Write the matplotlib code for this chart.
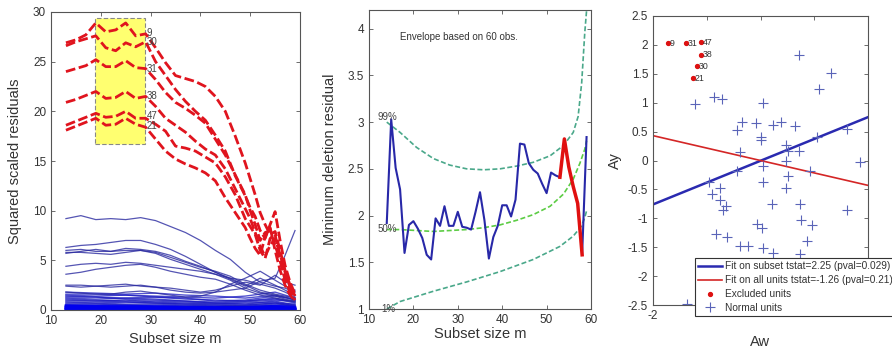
import matplotlib
matplotlib.use("Agg")
import matplotlib.pyplot as plt
from matplotlib.ticker import FormatStrFormatter
from matplotlib.patches import Rectangle

plt.rcParams['font.family'] = ['Liberation Sans', 'DejaVu Sans']

# ---------------- Panel 1: monitoring of squared scaled residuals ----------------
RED_M = [13, 15, 17, 19, 21, 23, 25, 27, 29, 31, 33, 35, 37, 39, 41, 43, 45, 47, 49,
         50, 51, 52, 53, 54, 55, 56, 57, 58, 59]
red_units = ["9", "30", "31", "38", "47", "21"]
red_9 = [26.9, 27.2, 27.7, 28.9, 28.0, 28.2, 28.9, 27.6, 27.8, 26.4, 24.9, 23.6, 23.3, 23.0, 22.5, 21.5, 20.0, 17.5, 14.8,
         13.2, 11.6, 9.8, 8.6, 7.6, 7.9, 6.0, 4.0, 2.5, 1.4]
red_30 = [26.6, 27.0, 27.3, 27.6, 26.4, 26.1, 26.9, 26.5, 27.0, 25.0, 23.6, 22.2, 21.0, 20.0, 19.1, 17.6, 16.0, 13.5, 11.5,
          10.3, 9.4, 8.0, 7.2, 8.6, 9.9, 7.0, 4.5, 2.8, 1.6]
red_31 = [24.0, 24.3, 24.6, 25.2, 24.5, 24.5, 25.1, 24.4, 24.3, 23.2, 21.9, 20.9, 20.3, 19.6, 18.8, 17.2, 15.6, 13.6, 11.6,
          10.0, 8.6, 7.0, 7.8, 8.0, 6.5, 5.0, 3.5, 2.2, 1.3]
red_38 = [20.9, 21.2, 21.6, 22.0, 21.3, 21.4, 22.0, 21.3, 21.5, 20.5, 19.3, 18.6, 17.9, 17.0, 16.2, 15.6, 14.2, 12.2, 10.2,
          9.2, 7.8, 6.4, 5.4, 6.5, 7.2, 5.6, 3.8, 2.3, 1.5]
red_47 = [18.6, 19.0, 19.4, 19.8, 19.4, 19.5, 20.0, 19.3, 19.3, 18.7, 18.0, 16.5, 16.3, 16.0, 15.4, 14.8, 13.4, 11.6, 9.2,
          8.4, 7.6, 6.0, 5.2, 7.2, 7.6, 5.0, 3.0, 1.8, 1.0]
red_21 = [18.1, 18.5, 18.9, 19.3, 18.6, 18.7, 19.3, 18.7, 18.4, 17.2, 16.0, 15.2, 14.7, 14.3, 13.8, 13.0, 11.3, 9.8, 8.3,
          7.2, 6.2, 5.5, 7.4, 8.3, 6.0, 4.0, 2.5, 1.5, 0.9]
red_label_y = [27.9, 27.0, 24.3, 21.5, 19.5, 18.5]
label_m = 29.2

BLUE_M = [13, 16, 19, 22, 25, 28, 31, 34, 37, 40, 43, 46, 49, 52, 55, 57, 59]
blue_upper = [
    [9.2, 9.5, 9.1, 9.2, 9.1, 9.3, 9.0, 8.4, 7.8, 7.0, 6.0, 5.1, 3.8, 2.8, 2.4, 2.2, 1.8],
    [6.3, 6.5, 6.6, 6.8, 7.0, 7.0, 6.6, 6.1, 5.4, 4.6, 3.8, 3.2, 2.5, 1.8, 1.5, 1.3, 1.0],
    [6.0, 6.1, 5.9, 5.9, 6.0, 6.0, 5.8, 5.3, 4.8, 4.3, 3.9, 3.4, 2.6, 2.0, 1.6, 1.4, 1.2],
    [5.8, 5.8, 5.7, 5.6, 5.8, 6.0, 5.7, 5.1, 4.6, 4.1, 3.6, 3.0, 2.2, 1.7, 1.4, 1.1, 0.9],
    [5.7, 5.9, 6.1, 5.9, 6.2, 6.1, 5.9, 5.5, 4.9, 4.4, 3.8, 3.1, 2.4, 3.2, 2.5, 2.0, 1.5],
    [4.4, 4.6, 4.7, 4.6, 4.8, 4.7, 4.5, 4.3, 4.1, 3.9, 3.6, 3.2, 3.0, 2.6, 2.2, 1.8, 1.3],
    [3.6, 3.8, 4.1, 4.3, 4.5, 4.6, 4.3, 3.9, 3.6, 3.3, 3.1, 2.6, 2.0, 1.5, 1.2, 1.0, 0.8],
    [2.5, 2.5, 2.4, 2.3, 2.4, 2.5, 2.3, 2.0, 1.8, 1.7, 1.8, 2.6, 3.2, 3.9, 3.0, 2.4, 2.0],
    [2.4, 2.3, 2.4, 2.5, 2.6, 2.4, 2.3, 2.2, 2.0, 1.8, 2.0, 2.4, 2.8, 2.5, 3.5, 2.8, 2.5],
    [1.8, 1.7, 1.6, 1.6, 1.8, 1.9, 1.7, 1.5, 1.3, 1.4, 1.8, 2.0, 2.2, 2.9, 3.2, 5.5, 8.0],
]
LOW_M = [13, 19, 25, 31, 37, 43, 49, 55, 59]
blue_low = [
    [1.8, 1.7, 1.6, 1.7, 1.5, 1.4, 1.2, 1.5, 1.0],
    [1.6, 1.6, 1.5, 1.4, 1.3, 1.2, 1.4, 1.8, 1.2],
    [1.5, 1.4, 1.5, 1.3, 1.1, 1.0, 0.9, 1.2, 0.8],
    [1.4, 1.3, 1.2, 1.3, 1.2, 0.9, 1.0, 1.4, 1.1],
    [1.3, 1.3, 1.1, 1.0, 0.9, 0.8, 0.9, 1.1, 0.7],
    [1.2, 1.1, 1.2, 1.1, 0.9, 0.7, 0.6, 0.9, 0.5],
    [1.1, 1.0, 0.9, 0.9, 0.8, 0.7, 0.8, 1.0, 0.9],
    [1.0, 0.9, 1.0, 0.8, 0.7, 0.6, 0.5, 0.7, 0.6],
    [0.9, 0.9, 0.8, 0.7, 0.6, 0.6, 0.7, 0.8, 0.4],
    [0.8, 0.7, 0.8, 0.7, 0.6, 0.5, 0.4, 0.6, 0.5],
    [0.7, 0.7, 0.6, 0.6, 0.5, 0.4, 0.5, 0.7, 0.3],
    [0.6, 0.6, 0.5, 0.5, 0.4, 0.4, 0.3, 0.5, 0.4],
    [0.5, 0.5, 0.5, 0.4, 0.4, 0.3, 0.4, 0.4, 0.2],
    [0.45, 0.4, 0.4, 0.35, 0.3, 0.3, 0.25, 0.4, 0.3],
    [0.4, 0.35, 0.3, 0.3, 0.25, 0.2, 0.3, 0.3, 0.2],
    [0.3, 0.3, 0.25, 0.2, 0.2, 0.2, 0.2, 0.3, 0.1],
    [0.25, 0.2, 0.2, 0.2, 0.15, 0.15, 0.1, 0.2, 0.15],
    [0.2, 0.15, 0.15, 0.1, 0.1, 0.1, 0.15, 0.2, 0.1],
    [0.15, 0.1, 0.1, 0.1, 0.08, 0.05, 0.1, 0.1, 0.05],
    [0.1, 0.08, 0.06, 0.05, 0.05, 0.04, 0.05, 0.06, 0.03],
    [0.05, 0.04, 0.03, 0.03, 0.02, 0.02, 0.03, 0.03, 0.02],
    [0.03, 0.02, 0.02, 0.01, 0.01, 0.01, 0.01, 0.02, 0.01],
]
box_m = [18.8, 28.9]
box_y = [16.7, 29.4]

# ---------------- Panel 2: minimum deletion residual ----------------
MDR_M = [14, 15, 16, 17, 18, 19, 20, 21, 22, 23, 24, 25, 26, 27, 28, 29, 30, 31, 32, 33, 34, 35, 36,
         37, 38, 39, 40, 41, 42, 43, 44, 45, 46, 47, 48, 49, 50, 51, 52, 53]
mdr = [1.92, 3.03, 2.51, 2.28, 1.60, 1.90, 1.94, 1.86, 1.76, 1.58, 1.53, 1.97, 1.89, 2.10, 1.89, 1.89,
       2.04, 1.88, 1.87, 1.85, 2.04, 2.25, 1.95, 1.54, 1.77, 1.89, 2.11, 2.11, 1.99, 2.17, 2.77, 2.76,
       2.56, 2.49, 2.45, 2.34, 2.24, 2.46, 2.43, 2.41]
MDR_RED_M = [53, 54, 55, 56, 57, 58]
mdr_red = [2.41, 2.82, 2.52, 2.31, 2.13, 1.58]
MDR_END_M = [58, 59]
mdr_end = [1.58, 2.84]

ENV_M = [14, 17, 20.7, 24.5, 28.2, 32, 35.8, 39.5, 43.3, 47, 50.8, 53.8, 56, 57.1, 57.9, 58.6, 59.1]
env99 = [3.0, 2.89, 2.73, 2.61, 2.54, 2.50, 2.49, 2.50, 2.53, 2.57, 2.64, 2.75, 2.89, 3.06, 3.42, 3.96, 4.25]
ENV50_M = [14, 17, 20.7, 24.5, 28.2, 32, 35.8, 39.5, 43.3, 47, 50.8, 53.8, 56, 57.5, 58.6, 59]
env50 = [1.85, 1.85, 1.84, 1.83, 1.84, 1.85, 1.87, 1.90, 1.95, 2.01, 2.10, 2.23, 2.39, 2.56, 2.71, 2.80]
ENV1_M = [14, 17, 24.5, 32, 39.5, 47, 53, 56, 57.9, 58.6, 59]
env1 = [1.0, 1.08, 1.19, 1.29, 1.40, 1.53, 1.67, 1.78, 1.89, 1.98, 2.05]

# ---------------- Panel 3: added variable plot ----------------
excl_labels = ["9", "31", "47", "38", "30", "21"]
excl_x = [-1.73, -1.39, -1.11, -1.11, -1.19, -1.26]
excl_y = [2.03, 2.03, 2.05, 1.83, 1.63, 1.42]
norm_x = [0.72, 1.32, 1.09, -1.22, -0.86, -0.72, 0.04, -0.43, -0.35, -0.09, 0.24, 0.39, 0.65, 0.01, 0.01,
          0.47, 0.52, 0.72, 1.06, 1.6, 1.85, -0.38, -0.44, 0.04, 0.52, 0.47, 0.93, -0.95, -0.91, -0.75,
          -0.75, -0.64, -0.69, 0.04, 0.22, 0.47, 0.73, 0.75, 0.96, 1.6, -0.82, -0.62, -0.38, -0.24,
          -0.07, 0.03, 0.86, 0.05, 0.24, 0.73, -1.36]
norm_y = [1.83, 1.52, 1.24, 0.97, 1.10, 1.06, 1.0, 0.53, 0.67, 0.65, 0.61, 0.67, 0.6, 0.4, 0.35,
          0.26, 0.17, 0.17, 0.4, 0.55, -0.03, 0.14, -0.18, -0.09, -0.26, 0.0, -0.18, -0.37, -0.58, -0.48,
          -0.69, -0.78, -0.86, -0.38, -0.75, -0.48, -0.76, -1.03, -1.12, -0.86, -1.27, -1.32, -1.48, -1.48,
          -1.1, -1.17, -1.4, -1.52, -1.6, -1.62, -2.48]
fit_x = [-2, 2]
fit_subset_y = [-0.76, 0.75]
fit_all_y = [0.43, -0.43]
legend_labels = ["Fit on subset tstat=2.25 (pval=0.029)",
                 "Fit on all units tstat=-1.26 (pval=0.21)",
                 "Excluded units", "Normal units"]

# ====================================================================
W, H = 892, 354
fig = plt.figure(figsize=(W / 100, H / 100), dpi=100)

def axes_px(l, t, r, b):
    return fig.add_axes([l / W, 1 - b / H, (r - l) / W, (b - t) / H])

SPINE = '#555555'
TXT = '#333333'

def style(ax):
    for s in ax.spines.values():
        s.set_color(SPINE)
        s.set_linewidth(0.8)
    ax.tick_params(direction='in', top=True, right=True, length=3, width=0.6,
                   colors=SPINE, labelcolor=TXT, labelsize=8.5)

# Panel 1
ax1 = axes_px(51, 12, 300, 310)
style(ax1)
ax1.add_patch(Rectangle((box_m[0], box_y[0]), box_m[1] - box_m[0], box_y[1] - box_y[0],
                        facecolor='#ffff70', edgecolor='#888888', linestyle=(0, (4, 2)), lw=0.8, zorder=1))
for ys in blue_low:
    thick = max(ys) < 0.5
    ax1.plot(LOW_M, ys, color='#0000ee' if thick else '#1a1ac0',
             lw=1.8 if thick else 1.0, alpha=0.9 if thick else 0.75, zorder=2)
for ys in blue_upper:
    ax1.plot(BLUE_M, ys, color='#2a2aa0', lw=0.9, alpha=0.8, zorder=2)
for ys in [red_9, red_30, red_31, red_38, red_47, red_21]:
    ax1.plot(RED_M, ys, color='#e0141e', lw=2.0, dashes=(3.5, 1.3), zorder=3)
for lab, ly in zip(red_units, red_label_y):
    ax1.text(label_m, ly, lab, fontsize=7, color='#444444', va='center', ha='left', zorder=4)
ax1.set_xlim(10, 60)
ax1.set_ylim(0, 30)
ax1.set_xticks([10, 20, 30, 40, 50, 60])
ax1.set_yticks([0, 5, 10, 15, 20, 25, 30])
ax1.set_xlabel('Subset size m', fontsize=10.5, color=TXT, labelpad=4)
ax1.set_ylabel('Squared scaled residuals', fontsize=10.5, color=TXT, labelpad=8)

# Panel 2
ax2 = axes_px(369, 10, 591, 309)
style(ax2)
ax2.plot(ENV_M, env99, color='#4aa88a', lw=1.2, dashes=(3, 1.5))
ax2.plot(ENV50_M, env50, color='#5ccc44', lw=1.2, dashes=(3, 1.5))
ax2.plot(ENV1_M, env1, color='#4aa88a', lw=1.2, dashes=(3, 1.5))
ax2.plot(MDR_M, mdr, color='#2828a8', lw=1.5)
ax2.plot(MDR_END_M, mdr_end, color='#2828a8', lw=1.5)
ax2.plot(MDR_RED_M, mdr_red, color='#e01010', lw=2.5)
ax2.text(12.0, 3.06, '99%', fontsize=7, color='#444444', va='center')
ax2.text(12.0, 1.86, '50%', fontsize=7, color='#444444', va='center')
ax2.text(12.8, 1.0, '1%', fontsize=7, color='#444444', va='center')
ax2.text(0.14, 0.91, 'Envelope based on 60 obs.', transform=ax2.transAxes, fontsize=7,
         color='#333333', va='center')
ax2.set_xlim(10, 60)
ax2.set_ylim(1, 4.2)
ax2.set_xticks([10, 20, 30, 40, 50, 60])
ax2.set_yticks([1, 1.5, 2, 2.5, 3, 3.5, 4])
ax2.yaxis.set_major_formatter(FormatStrFormatter('%g'))
ax2.set_xlabel('Subset size m', fontsize=10.5, color=TXT, labelpad=1)
ax2.set_ylabel('Minimum deletion residual', fontsize=10.5, color=TXT, labelpad=8)

# Panel 3
ax3 = axes_px(653, 16, 868, 305)
style(ax3)
l1, = ax3.plot(fit_x, fit_subset_y, color='#2a2ab0', lw=1.8)
l2, = ax3.plot(fit_x, fit_all_y, color='#d42626', lw=1.2)
p1, = ax3.plot(excl_x, excl_y, 'o', color='#dd1111', ms=2.8, ls='none')
p2, = ax3.plot(norm_x, norm_y, '+', color='#5a64b8', ms=7, mew=0.8, ls='none')
for lab, x, y in zip(excl_labels, excl_x, excl_y):
    ax3.text(x + 0.04, y, lab, fontsize=6.3, color='#333333', va='center', ha='left')
ax3.set_xlim(-2, 2)
ax3.set_ylim(-2.5, 2.5)
ax3.set_xticks([-2, -1, 0, 1, 2])
ax3.set_xticklabels(['-2', '', '', '', ''])
ax3.set_yticks([-2.5, -2, -1.5, -1, -0.5, 0, 0.5, 1, 1.5, 2, 2.5])
ax3.yaxis.set_major_formatter(FormatStrFormatter('%g'))
ax3.set_ylabel('Ay', fontsize=10.5, color=TXT, labelpad=4)
ax3.set_xlabel('Aw', fontsize=10.5, color=TXT)
ax3.xaxis.set_label_coords(0.5, -0.105)
leg = ax3.legend([l1, l2, p1, p2], legend_labels, loc='lower left',
                 bbox_to_anchor=(695 / W, 1 - 316 / H), bbox_transform=fig.transFigure,
                 fontsize=7.3, frameon=True, fancybox=False, framealpha=1, edgecolor='#333333',
                 handlelength=2.4, handletextpad=0.3, borderpad=0.3, labelspacing=0.38,
                 borderaxespad=0)
leg.get_frame().set_linewidth(0.8)
for t in leg.get_texts():
    t.set_color('#333333')
leg.set_zorder(10)
leg.set_clip_on(False)

fig.savefig('out.png', dpi=100)
